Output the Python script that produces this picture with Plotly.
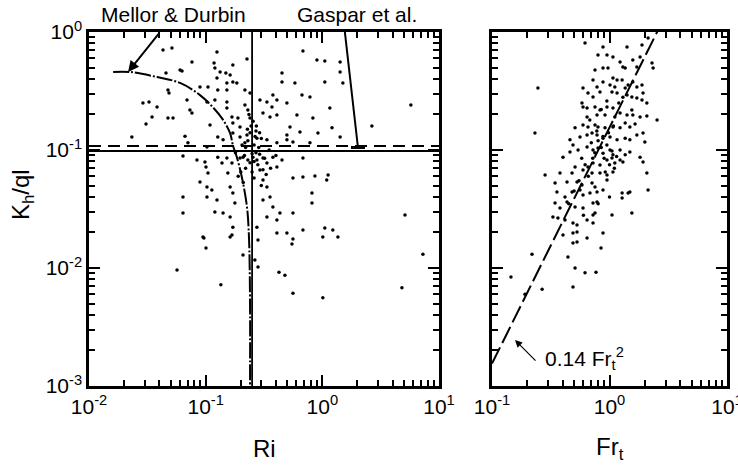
import math
import plotly.graph_objects as go

# ---------------- data: left panel (Ri vs Kh/ql) ----------------
ri_pts = [0.0431, 0.0514, 0.125, 0.0763, 0.118, 0.120, 0.171, 0.226, 0.0457, 0.0603,
          0.0627, 0.133, 0.149, 0.162, 0.125, 0.171, 0.0475, 0.0485, 0.0894, 0.1047,
          0.127, 0.152, 0.152, 0.185, 0.217, 0.240, 0.451, 0.451, 0.682, 0.899,
          1.05, 1.42, 1.42, 1.50, 0.582, 1.05, 0.029, 0.0327, 0.0383, 0.0347,
          0.0308, 0.0475, 0.0525, 0.0692, 0.0733, 0.0763, 0.109, 0.1026, 0.120, 0.152,
          0.152, 0.168, 0.189, 0.171, 0.197, 0.217, 0.230, 0.240, 0.292, 0.335,
          0.377, 0.408, 0.370, 0.310, 0.356, 0.408, 0.497, 0.606, 0.528, 0.643,
          0.497, 0.669, 0.783, 0.830, 1.16, 1.21, 0.917, 1.42, 0.0233, 0.0665,
          0.0705, 0.1026, 0.127, 0.141, 0.171, 0.197, 0.226, 0.217, 0.275, 0.335,
          0.408, 0.497, 0.560, 0.783, 5.74, 2.66,
          0.0639, 0.0842, 0.0986, 0.1006, 0.1047, 0.127, 0.138, 0.152, 0.168, 0.197,
          0.209, 0.230, 0.254, 0.275, 0.310, 0.335, 0.377, 0.408, 0.451, 0.560,
          0.682, 0.864, 1.12, 0.682, 1.09, 0.0639, 0.0639, 0.0894, 0.1026, 0.113,
          0.1026, 0.125, 0.120, 0.141, 0.155, 0.162, 0.171, 0.178, 0.162, 0.171,
          0.292, 0.310, 0.335, 0.356, 0.377, 0.310, 0.335, 0.275, 0.408, 0.433,
          0.497, 0.560, 0.815, 0.815, 0.682, 1.05, 1.23, 0.0948, 0.162, 0.0966,
          0.1006, 0.168, 0.209, 0.264, 0.281, 0.281, 0.408, 0.560, 0.549, 1.01,
          1.36, 0.0568, 0.135, 0.425, 0.478, 0.560, 1.01, 5.11, 7.28, 4.81,
          0.23, 0.26, 0.24, 0.27, 0.22, 0.25, 0.28, 0.22, 0.29, 0.20,
          0.31, 0.19, 0.26, 0.30, 0.33, 0.21, 0.36, 0.18, 0.35, 0.40,
          0.245, 0.255, 0.265, 0.235, 0.228, 0.272, 0.285, 0.215, 0.205, 0.30,
          0.32, 0.26, 0.25, 0.24, 0.27, 0.29]
kh_pts = [0.704, 0.731, 0.677, 0.557, 0.546, 0.495, 0.525, 0.590, 0.450, 0.476,
          0.467, 0.458, 0.450, 0.432, 0.407, 0.377, 0.322, 0.304, 0.342, 0.342,
          0.322, 0.370, 0.322, 0.370, 0.322, 0.304, 0.450, 0.377, 0.690, 0.579,
          0.568, 0.557, 0.458, 0.370, 0.370, 0.377, 0.250, 0.255, 0.231, 0.190,
          0.166, 0.187, 0.187, 0.265, 0.218, 0.206, 0.163, 0.255, 0.265, 0.255,
          0.227, 0.190, 0.187, 0.169, 0.157, 0.241, 0.218, 0.187, 0.265, 0.255,
          0.292, 0.265, 0.231, 0.206, 0.190, 0.198, 0.250, 0.198, 0.157, 0.142,
          0.134, 0.292, 0.281, 0.187, 0.227, 0.154, 0.139, 0.129, 0.129, 0.131,
          0.115, 0.106, 0.129, 0.122, 0.139, 0.129, 0.134, 0.115, 0.126, 0.122,
          0.115, 0.122, 0.117, 0.115, 0.241, 0.160,
          0.089, 0.0822, 0.0791, 0.0718, 0.0638, 0.087, 0.0776, 0.0855, 0.0776, 0.0855,
          0.087, 0.0822, 0.087, 0.0822, 0.0855, 0.0776, 0.087, 0.0718, 0.0822, 0.0579,
          0.0591, 0.0602, 0.0614, 0.0855, 0.0557, 0.0400, 0.0292, 0.0536, 0.0486, 0.0458,
          0.0400, 0.0377, 0.0298, 0.0292, 0.0638, 0.0486, 0.0432, 0.0356, 0.0271, 0.0222,
          0.0677, 0.0557, 0.0486, 0.0400, 0.0329, 0.0377, 0.0271, 0.0222, 0.0255, 0.0292,
          0.0198, 0.0292, 0.0432, 0.0356, 0.0210, 0.0218, 0.0210, 0.0183, 0.0183, 0.0180,
          0.0148, 0.0190, 0.0129, 0.0117, 0.0102, 0.0173, 0.0198, 0.0176, 0.0160, 0.0183,
          0.0183, 0.0096, 0.0072, 0.0092, 0.0087, 0.0061, 0.0056, 0.0281, 0.0131, 0.0068,
          0.12, 0.11, 0.14, 0.145, 0.105, 0.093, 0.075, 0.07, 0.092, 0.065,
          0.068, 0.06, 0.058, 0.05, 0.062, 0.053, 0.07, 0.095, 0.10, 0.09,
          0.16, 0.175, 0.13, 0.2, 0.15, 0.16, 0.105, 0.09, 0.11, 0.125,
          0.085, 0.08, 0.065, 0.078, 0.095, 0.14]

# model curves / reference lines (left panel)
md_ri = [0.0161, 0.0225, 0.0383, 0.0603, 0.0894, 0.115, 0.141, 0.162, 0.171, 0.185,
         0.204, 0.226, 0.235, 0.240, 0.240]
md_kh = [0.458, 0.458, 0.415, 0.370, 0.292, 0.231, 0.180, 0.139, 0.110, 0.087,
         0.0591, 0.0329, 0.0183, 0.0054, 0.001]
gaspar_ri = [1.56, 2.02]
gaspar_kh = [1.0, 0.105]
ri_crit = 0.25
kh_solid = 0.098
kh_dashed = 0.108

# ---------------- data: right panel (Fr_t vs Kh/ql) ----------------
fr_pts = [0.619, 0.881, 0.798, 0.952, 1.07, 1.41, 1.89, 2.13, 1.58, 1.82,
          1.71, 1.23, 1.30, 1.36, 0.753, 0.881, 0.971, 2.30, 2.35, 0.724,
          0.881, 1.07, 1.16, 1.28, 0.783, 1.01, 1.11, 1.36, 1.44, 1.58,
          1.71, 1.89, 1.93, 0.246, 0.595, 0.656, 0.724, 0.830, 1.05, 1.16,
          1.41, 1.55, 1.71, 1.89, 2.08, 0.583, 0.595, 0.644, 0.753, 0.830,
          0.952, 1.07, 1.23, 1.55, 0.644, 0.783, 0.916, 1.11, 1.41, 1.58,
          1.82, 2.08, 2.54, 0.232, 0.509, 0.595, 0.656, 0.753, 0.798, 0.916,
          1.07, 1.23, 1.36, 1.49, 1.65, 0.461, 0.489, 0.561, 0.644, 0.710,
          0.783, 0.881, 1.01, 1.16, 1.36, 1.49, 1.71, 1.93, 2.00, 0.402,
          0.461, 0.540, 0.644, 0.724, 0.798, 0.881, 1.01, 1.07, 1.23, 1.36,
          1.49, 1.82, 1.93, 0.283, 0.379, 0.480, 0.509, 0.595, 0.656, 0.724,
          0.830, 0.952, 1.05, 1.11, 1.23, 1.30, 0.710, 0.830, 0.952, 1.07,
          2.08, 2.13, 0.344, 0.435, 0.529, 0.583, 0.710, 0.753, 0.881, 0.952,
          0.357, 0.418, 0.480, 0.561, 0.595, 0.682, 0.783, 1.28, 1.28, 1.44,
          1.49, 0.344, 0.379, 0.435, 0.509, 0.595, 0.724, 0.783, 0.753, 0.724,
          1.55, 1.05, 0.330, 0.364, 0.418, 0.489, 0.529, 0.644, 0.724, 0.881,
          0.644, 0.489, 0.402, 0.529, 0.489, 0.529, 0.443, 0.847, 0.219, 0.145,
          0.267, 0.191, 0.509, 0.619, 0.768, 0.489,
          0.70, 0.75, 0.80, 0.85, 0.90, 0.95, 1.00, 1.05, 1.10, 1.15,
          0.78, 0.88, 0.98, 1.08, 0.68, 0.72, 0.92, 0.62, 0.58, 0.66,
          0.85, 0.95, 1.20, 1.30, 0.55, 0.50, 0.45, 0.60, 0.80, 1.00]
kf_pts = [0.807, 0.746, 0.638, 0.638, 0.614, 0.746, 0.776, 0.889, 0.579, 0.614,
          0.505, 0.557, 0.505, 0.495, 0.476, 0.495, 0.495, 0.546, 0.495, 0.392,
          0.377, 0.407, 0.392, 0.392, 0.342, 0.356, 0.342, 0.335, 0.356, 0.377,
          0.342, 0.356, 0.304, 0.335, 0.335, 0.304, 0.281, 0.310, 0.310, 0.304,
          0.292, 0.281, 0.276, 0.265, 0.250, 0.250, 0.231, 0.227, 0.231, 0.218,
          0.231, 0.227, 0.206, 0.218, 0.190, 0.198, 0.198, 0.190, 0.198, 0.198,
          0.190, 0.194, 0.180, 0.139, 0.154, 0.163, 0.157, 0.163, 0.157, 0.154,
          0.157, 0.154, 0.169, 0.157, 0.166, 0.122, 0.110, 0.129, 0.134, 0.139,
          0.134, 0.126, 0.129, 0.122, 0.126, 0.122, 0.134, 0.139, 0.117, 0.087,
          0.096, 0.100, 0.106, 0.100, 0.104, 0.094, 0.100, 0.091, 0.100, 0.091,
          0.096, 0.087, 0.0791, 0.0614, 0.0638, 0.0638, 0.0718, 0.0677, 0.0718, 0.0776,
          0.0746, 0.0822, 0.0855, 0.0776, 0.0822, 0.0791, 0.0638, 0.0638, 0.0614, 0.0651,
          0.0638, 0.0458, 0.0525, 0.0536, 0.0536, 0.0505, 0.0525, 0.0486, 0.0458, 0.0557,
          0.0441, 0.0400, 0.0441, 0.0458, 0.0416, 0.0432, 0.0441, 0.0432, 0.0392, 0.0432,
          0.0441, 0.0356, 0.0322, 0.0362, 0.0329, 0.0322, 0.0356, 0.0362, 0.0292, 0.0281,
          0.0292, 0.0281, 0.0271, 0.0265, 0.0255, 0.0241, 0.0231, 0.0255, 0.0241, 0.0198,
          0.0180, 0.0198, 0.0190, 0.0202, 0.0163, 0.0166, 0.0124, 0.0148, 0.0131, 0.0084,
          0.0066, 0.0060, 0.0100, 0.0091, 0.0092, 0.0069,
          0.115, 0.095, 0.12, 0.105, 0.085, 0.11, 0.075, 0.098, 0.07, 0.088,
          0.145, 0.13, 0.14, 0.16, 0.18, 0.085, 0.065, 0.075, 0.085, 0.06,
          0.22, 0.26, 0.25, 0.28, 0.055, 0.045, 0.035, 0.028, 0.035, 0.04]

fit_coef = 0.155
fit_fr = [0.1, 0.2, 0.5, 1.0, 2.0, 2.7]

# tick labels
x1_tickvals = [0.01, 0.1, 1, 10]
x1_ticktext = ["10<sup>-2</sup>", "10<sup>-1</sup>", "10<sup>0</sup>", "10<sup>1</sup>"]
x2_tickvals = [0.1, 1, 10]
x2_ticktext = ["10<sup>-1</sup>", "10<sup>0</sup>", "10<sup>1</sup>"]
y_tickvals = [0.001, 0.01, 0.1, 1]
y_ticktext = ["10<sup>-3</sup>", "10<sup>-2</sup>", "10<sup>-1</sup>", "10<sup>0</sup>"]

FONT = "Liberation Sans, Arial, Helvetica, sans-serif"
W, H = 738, 466


def minor_vals(lo, hi):
    vals = []
    for e in range(lo, hi):
        for m in range(2, 10):
            vals.append(m * 10 ** e)
    return vals


fig = go.Figure()

# left panel lines
fig.add_trace(go.Scatter(x=[0.01, 10], y=[kh_solid, kh_solid], mode="lines",
                         line=dict(color="black", width=2), xaxis="x", yaxis="y"))
fig.add_trace(go.Scatter(x=[0.01, 10], y=[kh_dashed, kh_dashed], mode="lines",
                         line=dict(color="black", width=2, dash="12px,7px"), xaxis="x", yaxis="y"))
fig.add_trace(go.Scatter(x=[ri_crit, ri_crit], y=[0.001, 1], mode="lines",
                         line=dict(color="black", width=1.8), xaxis="x", yaxis="y"))
fig.add_trace(go.Scatter(x=md_ri, y=md_kh, mode="lines",
                         line=dict(color="black", width=2, dash="16px,2px,2px,2px", shape="spline"),
                         xaxis="x", yaxis="y"))
fig.add_trace(go.Scatter(x=gaspar_ri, y=gaspar_kh, mode="lines",
                         line=dict(color="black", width=2), xaxis="x", yaxis="y"))
fig.add_trace(go.Scatter(x=[gaspar_ri[-1]], y=[gaspar_kh[-1]], mode="markers",
                         marker=dict(symbol="line-ew", size=10, line=dict(color="black", width=3)),
                         xaxis="x", yaxis="y"))
fig.add_trace(go.Scatter(x=ri_pts, y=kh_pts, mode="markers",
                         marker=dict(color="black", size=3.5), xaxis="x", yaxis="y"))

# right panel
fig.add_trace(go.Scatter(x=fit_fr, y=[fit_coef * f ** 2 for f in fit_fr], mode="lines",
                         line=dict(color="black", width=2, dash="18px,5px"),
                         xaxis="x2", yaxis="y2"))
fig.add_trace(go.Scatter(x=fr_pts, y=kf_pts, mode="markers",
                         marker=dict(color="black", size=3.5), xaxis="x2", yaxis="y2"))

ydom = [1 - 386 / H, 1 - 32 / H]
common_axis = dict(type="log", showline=True, linecolor="black", linewidth=2.5, mirror="ticks",
                   ticks="inside", ticklen=11, tickwidth=2, tickcolor="black",
                   showgrid=False, zeroline=False, automargin=False,
                   ticklabeloverflow="allow",
                   tickfont=dict(family=FONT, size=21, color="black"))

fig.update_layout(
    width=W, height=H,
    margin=dict(l=0, r=0, t=0, b=0, pad=0, autoexpand=False),
    paper_bgcolor="white", plot_bgcolor="white",
    showlegend=False,
    font=dict(family=FONT, color="black"),
    xaxis=dict(common_axis, domain=[89 / W, 439 / W], range=[-2, 1], anchor="y",
               tickmode="array", tickvals=x1_tickvals, ticktext=x1_ticktext,
               minor=dict(ticks="inside", ticklen=6, tickwidth=1.8, tickcolor="black",
                          tickmode="array", tickvals=minor_vals(-2, 1))),
    yaxis=dict(common_axis, domain=ydom, range=[-3, 0], anchor="x",
               tickmode="array", tickvals=y_tickvals, ticktext=y_ticktext,
               minor=dict(ticks="inside", ticklen=6, tickwidth=1.8, tickcolor="black",
                          tickmode="array", tickvals=minor_vals(-3, 0))),
    xaxis2=dict(common_axis, domain=[492 / W, 727 / W], range=[-1, 1], anchor="y2",
                tickmode="array", tickvals=x2_tickvals, ticktext=x2_ticktext,
                minor=dict(ticks="inside", ticklen=6, tickwidth=1.8, tickcolor="black",
                           tickmode="array", tickvals=minor_vals(-1, 1))),
    yaxis2=dict(common_axis, domain=ydom, range=[-3, 0], anchor="x2",
                tickmode="array", tickvals=y_tickvals, ticktext=y_ticktext,
                showticklabels=False,
                minor=dict(ticks="inside", ticklen=6, tickwidth=1.8, tickcolor="black",
                           tickmode="array", tickvals=minor_vals(-3, 0))),
)

ann_font = dict(family=FONT, size=21, color="black")
title_font = dict(family=FONT, size=24, color="black")
fig.add_annotation(text="Mellor & Durbin", xref="paper", yref="paper", x=173 / W, y=1 - 14 / H,
                   xanchor="center", yanchor="middle", showarrow=False, font=ann_font)
fig.add_annotation(text="Gaspar et al.", xref="paper", yref="paper", x=357 / W, y=1 - 14 / H,
                   xanchor="center", yanchor="middle", showarrow=False, font=ann_font)
fig.add_annotation(text="", xref="x", yref="y", x=math.log10(0.0216), y=math.log10(0.458),
                   ax=32, ay=-40, showarrow=True, arrowhead=2, arrowsize=1.1, arrowwidth=2,
                   arrowcolor="black")
fig.add_annotation(text="0.14 Fr<sub>t</sub><sup>2</sup>", xref="paper", yref="paper",
                   x=543 / W, y=1 - 358 / H, xanchor="left", yanchor="middle",
                   showarrow=False, font=ann_font)
fig.add_annotation(text="", xref="x2", yref="y2", x=math.log10(0.157), y=math.log10(0.00245),
                   ax=22, ay=22, showarrow=True, arrowhead=2, arrowsize=1.2, arrowwidth=1.2,
                   arrowcolor="black")
fig.add_annotation(text="Ri", xref="paper", yref="paper", x=264 / W, y=1 - 448 / H,
                   xanchor="center", yanchor="middle", showarrow=False, font=title_font)
fig.add_annotation(text="Fr<sub>t</sub>", xref="paper", yref="paper", x=610 / W, y=1 - 448 / H,
                   xanchor="center", yanchor="middle", showarrow=False, font=title_font)
fig.add_annotation(text="K<sub>h</sub>/ql", xref="paper", yref="paper", x=22 / W, y=1 - 195 / H,
                   xanchor="center", yanchor="middle", showarrow=False, textangle=-90,
                   font=title_font)

fig.write_html("out.html")
